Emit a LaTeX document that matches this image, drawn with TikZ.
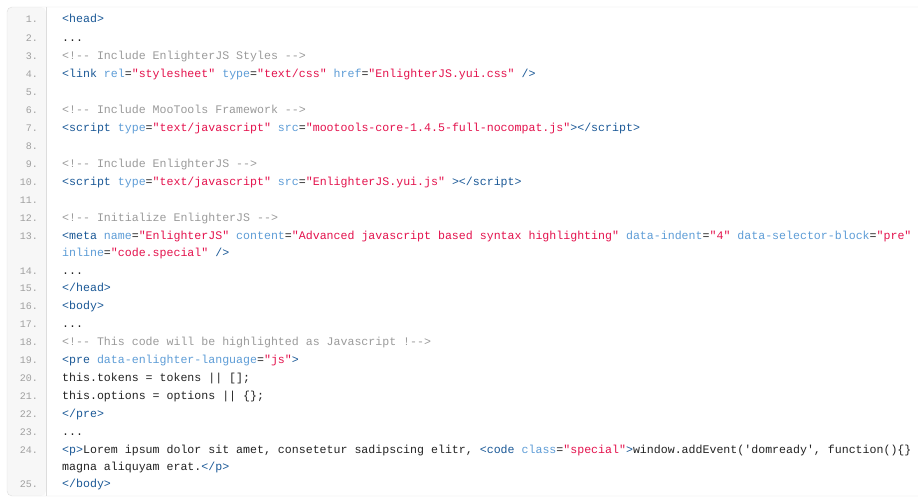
\documentclass[tikz,border=0pt]{standalone}
\usepackage{fontspec}
\setmonofont{Liberation Mono}
\definecolor{tagc}{HTML}{1A5896}
\definecolor{attc}{HTML}{5D9CD6}
\definecolor{strc}{HTML}{E3114C}
\definecolor{cmc}{HTML}{9A9A9A}
\definecolor{txtc}{HTML}{222222}
\definecolor{numc}{HTML}{A0A0A0}
\definecolor{gutc}{HTML}{F7F7F7}
\definecolor{brdc}{HTML}{DDDDDD}
\newcommand{\tg}[1]{\textcolor{tagc}{#1}}
\newcommand{\ta}[1]{\textcolor{attc}{#1}}
\newcommand{\ts}[1]{\textcolor{strc}{#1}}
\newcommand{\tc}[1]{\textcolor{cmc}{#1}}
\begin{document}
\begin{tikzpicture}[x=1pt,y=-1pt,
  code/.style={anchor=base west,inner sep=0pt,font=\ttfamily\fontsize{11.6}{13}\selectfont,text=txtc},
  num/.style={anchor=base east,inner sep=0pt,font=\ttfamily\fontsize{10}{11}\selectfont,text=numc}]
\useasboundingbox (0,0) rectangle (918,498);
\begin{scope}
\clip (0,0) rectangle (918,498);
\fill[gutc,rounded corners=5pt] (7,7) rectangle (46,496);
\draw[brdc,rounded corners=5pt] (930,7) -- (7,7) -- (7,496) -- (930,496);
\draw[brdc] (46,7) -- (46,496);
\foreach \n/\y in {1/18,2/37,3/55,4/73,5/91,6/109,7/127,8/145,9/163,10/181,11/199,12/217,13/235,14/270,15/287,16/305,17/323,18/341,19/359,20/377,21/395,22/413,23/431,24/449,25/483}
  \node[num] (n\n) at (38,\y+4) {\n.};
\node[code] (l1) at (62,22) {\tg{<head>}};
\node[code] (l2) at (62,41) {...};
\node[code] (l3) at (62,59) {\tc{<!-- Include EnlighterJS Styles -->}};
\node[code] (l4) at (62,77) {\tg{<link} \ta{rel}=\ts{"stylesheet"} \ta{type}=\ts{"text/css"} \ta{href}=\ts{"EnlighterJS.yui.css"} \tg{/>}};
\node[code] (l6) at (62,113) {\tc{<!-- Include MooTools Framework -->}};
\node[code] (l7) at (62,131) {\tg{<script} \ta{type}=\ts{"text/javascript"} \ta{src}=\ts{"mootools-core-1.4.5-full-nocompat.js"}\tg{></script>}};
\node[code] (l9) at (62,167) {\tc{<!-- Include EnlighterJS -->}};
\node[code] (l10) at (62,185) {\tg{<script} \ta{type}=\ts{"text/javascript"} \ta{src}=\ts{"EnlighterJS.yui.js"} \tg{></script>}};
\node[code] (l12) at (62,221) {\tc{<!-- Initialize EnlighterJS -->}};
\node[code] (l13) at (62,239) {\tg{<meta} \ta{name}=\ts{"EnlighterJS"} \ta{content}=\ts{"Advanced javascript based syntax highlighting"} \ta{data-indent}=\ts{"4"} \ta{data-selector-block}=\ts{"pre"}};
\node[code] (l13b) at (62,256) {\ta{inline}=\ts{"code.special"} \tg{/>}};
\node[code] (l14) at (62,274) {...};
\node[code] (l15) at (62,291) {\tg{</head>}};
\node[code] (l16) at (62,309) {\tg{<body>}};
\node[code] (l17) at (62,327) {...};
\node[code] (l18) at (62,345) {\tc{<!-- This code will be highlighted as Javascript !-->}};
\node[code] (l19) at (62,363) {\tg{<pre} \ta{data-enlighter-language}=\ts{"js"}\tg{>}};
\node[code] (l20) at (62,381) {this.tokens = tokens || [];};
\node[code] (l21) at (62,399) {this.options = options || \{\};};
\node[code] (l22) at (62,417) {\tg{</pre>}};
\node[code] (l23) at (62,435) {...};
\node[code] (l24) at (62,453) {\tg{<p>}Lorem ipsum dolor sit amet, consetetur sadipscing elitr, \tg{<code} \ta{class}=\ts{"special"}\tg{>}window.addEvent('domready', function()\{\}};
\node[code] (l24b) at (62,470) {magna aliquyam erat.\tg{</p>}};
\node[code] (l25) at (62,487) {\tg{</body>}};
\end{scope}
\end{tikzpicture}
\end{document}
